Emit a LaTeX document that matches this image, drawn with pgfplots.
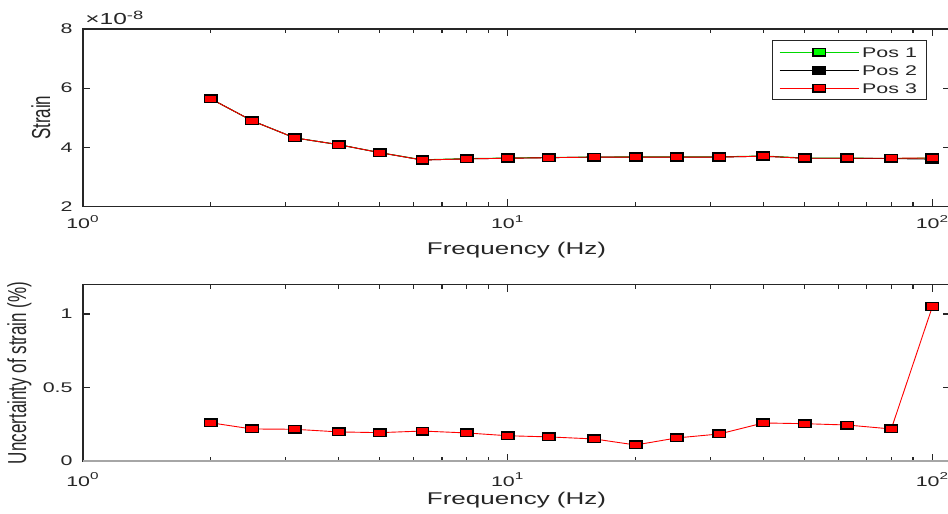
\documentclass[border=0pt]{standalone}
\usepackage{fontspec}
\setmainfont[FakeStretch=1.53]{Liberation Sans}
\newfontfamily\plainsans{Liberation Sans}
\usepackage{graphicx}
\usepackage{pgfplots}
\pgfplotsset{compat=1.18}

\definecolor{axgray}{rgb}{0.15,0.15,0.15}

% strain (x 1e-8) per position
\pgfplotstableread{
f     s
2     5.64
2.5   4.90
3.15  4.32
4     4.09
5     3.82
6.3   3.58
8     3.62
10    3.64
12.5  3.66
16    3.67
20    3.68
25    3.68
31.5  3.68
40    3.71
50    3.64
63    3.64
80    3.62
100   3.64
}\posone
\pgfplotstableread{
f     s
2     5.64
2.5   4.90
3.15  4.32
4     4.09
5     3.82
6.3   3.57
8     3.61
10    3.63
12.5  3.65
16    3.67
20    3.67
25    3.67
31.5  3.67
40    3.70
50    3.63
63    3.63
80    3.62
100   3.60
}\postwo
\pgfplotstableread{
f     s
2     5.64
2.5   4.90
3.15  4.32
4     4.09
5     3.82
6.3   3.57
8     3.61
10    3.63
12.5  3.65
16    3.67
20    3.67
25    3.67
31.5  3.67
40    3.70
50    3.63
63    3.63
80    3.63
100   3.64
}\posthree
% uncertainty of strain (%)
\pgfplotstableread{
f     u
2     0.260
2.5   0.218
3.15  0.216
4     0.198
5     0.193
6.3   0.204
8     0.191
10    0.172
12.5  0.164
16    0.150
20    0.109
25    0.157
31.5  0.184
40    0.259
50    0.254
63    0.245
80    0.218
100   1.052
}\unc

\pgfplotsset{
  sq/.style={mark=square*, mark size=1.9pt,
    mark options={xscale=1.65, draw=black, fill=#1, line width=0.7pt, solid}},
}

\begin{document}
\begin{tikzpicture}
\begin{semilogxaxis}[
  scale only axis, width=433.5pt, xmin=1, xmax=110,
  xtick={1,10,100},
  xticklabels={10\textsuperscript{0},10\textsuperscript{1},10\textsuperscript{2}},
  tick align=inside, tick pos=both,
  xticklabel pos=lower, yticklabel pos=left,
  major tick length=3.5pt, minor tick length=2pt,
  axis line style={axgray, line width=0.6pt},
  every tick/.style={axgray, line width=0.6pt},
  tick label style={font=\fontsize{7}{8}\selectfont, text=axgray},
  label style={font=\fontsize{8.5}{10}\selectfont, text=axgray},
  /pgf/number format/assume math mode=true,
  xticklabel style={anchor=base, yshift=-11pt},
  yticklabel style={anchor=east, inner sep=0pt, xshift=-5pt},
  xlabel={Frequency (Hz)},
  xlabel style={at={(axis description cs:0.5,0)}, anchor=base, yshift=-23.75pt},
  clip=false,
  at={(0,0)}, anchor=south west, height=88.75pt,
  ymin=2, ymax=8, ytick={2,4,6,8},
  ylabel={\plainsans\scalebox{1}[1.53]{Strain}},
  ylabel style={at={(axis description cs:-0.038,0.5)}, anchor=base},
  legend style={at={(0.974,0.938)}, anchor=north east, draw=axgray,
    line width=0.5pt, font=\fontsize{7}{8}\selectfont, text=axgray,
    inner xsep=3.5pt, inner ysep=1.8pt, row sep=1pt,
    nodes={inner sep=1.5pt, text height=5pt, text depth=0pt},
    cells={anchor=west}},
  legend image code/.code={
    \draw[mark repeat=2, mark phase=2, #1] plot coordinates {(0pt,0pt) (19.75pt,0pt) (39.5pt,0pt)};
  },
]
\addplot[green!85!black, line width=0.45pt, sq=green] table[x=f, y=s] {\posone};
\addlegendentry{Pos 1}
\addplot[black, line width=0.45pt, sq=black] table[x=f, y=s] {\postwo};
\addlegendentry{Pos 2}
\addplot[red, line width=0.45pt, sq=red] table[x=f, y=s] {\posthree};
\addlegendentry{Pos 3}
\node[anchor=base west, font=\fontsize{8}{9}\selectfont, text=axgray, inner sep=0pt,
  xshift=1pt, yshift=2pt] at (rel axis cs:0,1) {×10\textsuperscript{-8}};
\end{semilogxaxis}

\begin{semilogxaxis}[
  scale only axis, width=433.5pt, xmin=1, xmax=110,
  xtick={1,10,100},
  xticklabels={10\textsuperscript{0},10\textsuperscript{1},10\textsuperscript{2}},
  tick align=inside, tick pos=both,
  xticklabel pos=lower, yticklabel pos=left,
  major tick length=3.5pt, minor tick length=2pt,
  axis line style={axgray, line width=0.6pt},
  every tick/.style={axgray, line width=0.6pt},
  tick label style={font=\fontsize{7}{8}\selectfont, text=axgray},
  label style={font=\fontsize{8.5}{10}\selectfont, text=axgray},
  /pgf/number format/assume math mode=true,
  xticklabel style={anchor=base, yshift=-12.5pt},
  yticklabel style={anchor=east, inner sep=0pt, xshift=-5pt},
  xlabel={Frequency (Hz)},
  xlabel style={at={(axis description cs:0.5,0)}, anchor=base, yshift=-21.5pt},
  clip=false,
  at={(0,-127.25pt)}, anchor=south west, height=88.15pt,
  ymin=0, ymax=1.2, ytick={0,0.5,1},
  ylabel={\plainsans\scalebox{1}[1.53]{Uncertainty of strain (\%)}},
  ylabel style={at={(axis description cs:-0.0657,0.5)}, anchor=base},
]
\addplot[gray!70, line width=1pt, forget plot] coordinates {(1,0) (110,0)};
\addplot[red, line width=0.45pt, sq=red] table[x=f, y=u] {\unc};
\end{semilogxaxis}

\pgfresetboundingbox
\path[use as bounding box] (-41.5pt,-153.75pt) rectangle (432.5pt,103.25pt);
\end{tikzpicture}
\end{document}
